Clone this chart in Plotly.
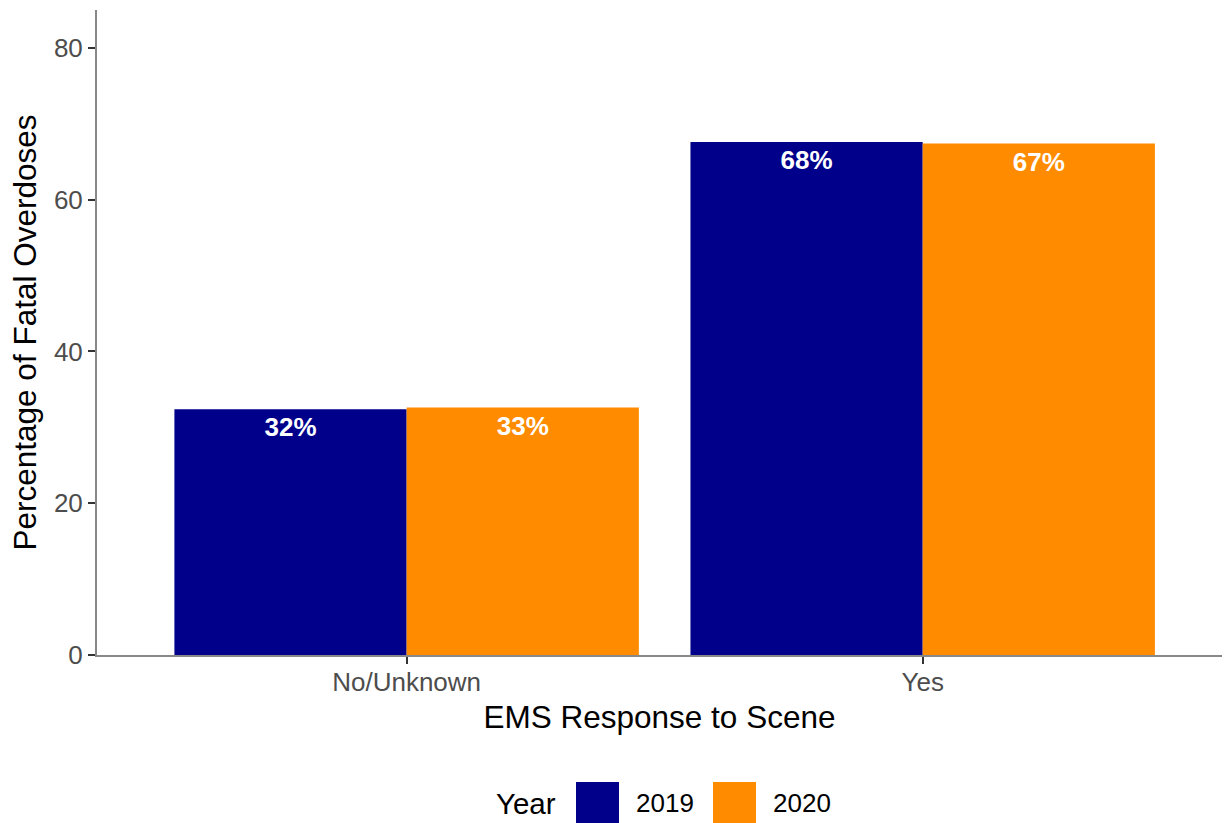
import plotly.graph_objects as go

categories = ["No/Unknown", "Yes"]
years = ["2019", "2020"]
values_2019 = [32.4, 67.6]
values_2020 = [32.6, 67.4]
labels_2019 = ["32%", "68%"]
labels_2020 = ["33%", "67%"]
colors = {"2019": "#00008B", "2020": "#FF8C00"}

FONT = "Liberation Sans, Arial, Helvetica, sans-serif"

fig = go.Figure()
for yr, vals, labs in [("2019", values_2019, labels_2019), ("2020", values_2020, labels_2020)]:
    fig.add_trace(go.Bar(
        x=categories, y=vals, name=yr, marker=dict(color=colors[yr], line=dict(width=0)),
        text=labs, textposition="inside", insidetextanchor="end",
        textfont=dict(family=FONT, size=26, color="white", weight="bold"),
        constraintext="none", showlegend=False, hoverinfo="x+y+name",
    ))

# plot area in pixels: x 97..1222, y 10..655
L, R, T, B = 97, 1222, 10, 655
W, H = R - L, B - T
def px(x):
    return (x - L) / W
def py(y):
    return (B - y) / H

shapes = []
annotations = []
# custom legend
annotations.append(dict(text="Year", x=px(526), y=py(803), xref="paper", yref="paper",
                        showarrow=False, font=dict(family=FONT, size=29.5, color="black"),
                        xanchor="center", yanchor="middle"))
for yr, x0, tx in [("2019", 576, 665), ("2020", 713, 802)]:
    shapes.append(dict(type="rect", xref="paper", yref="paper",
                       x0=px(x0), x1=px(x0 + 43), y0=py(825), y1=py(782),
                       fillcolor=colors[yr], line=dict(width=0)))
    annotations.append(dict(text=yr, x=px(tx), y=py(803), xref="paper", yref="paper",
                            showarrow=False, font=dict(family=FONT, size=26, color="black"),
                            xanchor="center", yanchor="middle"))

fig.update_layout(
    width=1226, height=823,
    margin=dict(l=L, r=1226 - R, t=T, b=823 - B, autoexpand=False),
    paper_bgcolor="white", plot_bgcolor="white",
    barmode="group", bargap=0.1, bargroupgap=0,
    font=dict(family=FONT),
    shapes=shapes, annotations=annotations,
    xaxis=dict(
        range=[-0.6, 1.58], showgrid=False, zeroline=False,
        showline=True, linecolor="#888888", linewidth=2,
        ticks="outside", ticklen=7, tickwidth=2, tickcolor="#333333",
        ticklabelstandoff=-4,
        tickfont=dict(family=FONT, size=26, color="#4D4D4D"),
        title=dict(text="EMS Response to Scene", font=dict(family=FONT, size=31.5, color="black"), standoff=10),
    ),
    yaxis=dict(
        range=[0, 85], showgrid=False, zeroline=False,
        showline=True, linecolor="#888888", linewidth=2,
        tickvals=[0, 20, 40, 60, 80],
        ticks="outside", ticklen=7, tickwidth=2, tickcolor="#333333",
        tickfont=dict(family=FONT, size=26, color="#4D4D4D"),
        title=dict(text="Percentage of Fatal Overdoses", font=dict(family=FONT, size=31.5, color="black"), standoff=8),
    ),
)

fig.write_html("out.html", config={"displayModeBar": False},
               post_script="document.body.style.margin='0';document.body.style.padding='0';")
